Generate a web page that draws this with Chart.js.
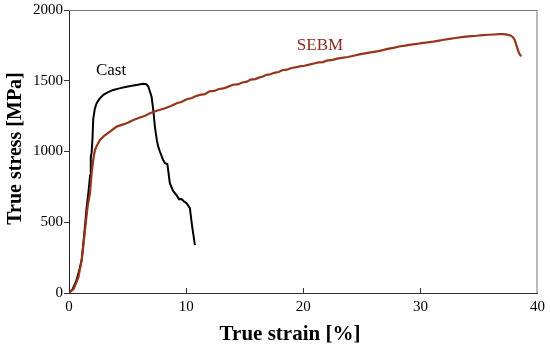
<!DOCTYPE html>
<html>
<head>
<meta charset="utf-8">
<script src="https://cdn.jsdelivr.net/npm/chart.js@4"></script>
<style>
html,body{margin:0;padding:0;background:#fff;}
#c{display:block;}
</style>
</head>
<body>
<canvas id="c" width="550" height="350"></canvas>
<script>
const xTickValues = [0, 10, 20, 30, 40];
const yTickValues = [0, 500, 1000, 1500, 2000];

const castStrain = [0, 0.3, 0.65, 0.9, 1.08, 1.2, 1.36, 1.5, 1.65, 1.8, 1.86, 1.93, 2.0, 2.07, 2.2, 2.36, 2.6, 2.93, 3.3, 3.78, 4.3, 4.92, 5.5, 6.0, 6.34, 6.6, 6.77, 7.05, 7.2, 7.33, 7.5, 7.62, 7.76, 8.04, 8.2, 8.4, 8.61, 8.9, 9.19, 9.4, 9.61, 9.8, 10.04, 10.32, 10.5, 10.75];
const castStress = [0, 25, 92, 170, 233, 330, 469, 600, 705, 830, 960, 990, 1080, 1230, 1300, 1341, 1372, 1400, 1418, 1435, 1446, 1458, 1466, 1473, 1478, 1476, 1459, 1388, 1290, 1176, 1080, 1034, 1000, 940, 917, 910, 776, 720, 690, 662, 664, 648, 634, 600, 480, 339];

const sebmStrain = [0, 0.4, 0.8, 1.1, 1.4, 1.6, 1.79, 1.93, 2.1, 2.22, 2.4, 2.64, 3.0, 3.5, 4.07, 4.5, 4.92, 5.5, 6.0, 6.5, 6.91, 7.5, 8.2, 8.7, 9.19, 9.6, 10, 10.5, 10.8, 11.17, 11.6, 12, 12.4, 12.8, 13.2, 13.5, 14, 14.4, 14.8, 15.2, 15.5, 15.9, 16.2, 16.5, 16.86, 17.2, 17.5, 17.9, 18.2, 18.6, 19, 19.3, 19.7, 20.1, 20.5, 21, 21.3, 21.7, 22, 22.5, 22.9, 23.3, 23.8, 24.2, 24.8, 25.4, 25.9, 26.3, 26.8, 27.2, 27.7, 28.2, 28.7, 29.2, 29.7, 30.1, 30.6, 31.1, 31.6, 32, 32.5, 33, 33.5, 33.9, 34.4, 34.8, 35.3, 35.8, 36.3, 36.76, 37.1, 37.4, 37.7, 37.9, 38.05, 38.2, 38.4, 38.6];
const sebmStress = [0, 30, 110, 240, 470, 620, 705, 846, 960, 1011, 1045, 1082, 1110, 1140, 1176, 1188, 1200, 1222, 1238, 1252, 1270, 1288, 1306, 1322, 1341, 1350, 1368, 1378, 1390, 1400, 1405, 1425, 1428, 1442, 1446, 1455, 1472, 1474, 1488, 1494, 1508, 1512, 1522, 1528, 1542, 1546, 1556, 1562, 1574, 1578, 1590, 1594, 1602, 1606, 1614, 1624, 1630, 1632, 1642, 1648, 1656, 1662, 1668, 1675, 1686, 1695, 1702, 1708, 1716, 1725, 1732, 1742, 1748, 1755, 1760, 1766, 1771, 1777, 1784, 1790, 1796, 1802, 1808, 1812, 1816, 1818, 1822, 1825, 1827, 1829, 1829, 1826, 1820, 1808, 1790, 1750, 1700, 1671];

const toPts = (xs, ys) => xs.map((x, i) => ({x: x, y: ys[i]}));

const SERIF = "'Liberation Serif', 'Times New Roman', serif";
const sebmColor = '#953519';
Chart.defaults.font.family = SERIF;

const decor = {
  id: 'decor',
  afterDraw(chart) {
    const {ctx, chartArea: a, scales} = chart;
    const xs = scales.x, ys = scales.y;
    ctx.save();
    ctx.strokeStyle = '#777';
    ctx.lineWidth = 1;
    ctx.beginPath();
    ctx.moveTo(a.left, a.top + 0.5);
    ctx.lineTo(a.right - 0.5, a.top + 0.5);
    ctx.lineTo(a.right - 0.5, a.bottom);
    ctx.stroke();
    ctx.strokeStyle = '#333';
    xTickValues.forEach(v => {
      if (v === xs.min || v === xs.max) return;
      const px = Math.round(xs.getPixelForValue(v)) + 0.5;
      ctx.beginPath();
      ctx.moveTo(px, a.bottom);
      ctx.lineTo(px, a.bottom - 5);
      ctx.stroke();
    });
    ctx.textAlign = 'left';
    ctx.textBaseline = 'alphabetic';
    ctx.font = '17px ' + SERIF;
    ctx.fillStyle = '#000';
    ctx.fillText('Cast', xs.getPixelForValue(2.3), ys.getPixelForValue(1541));
    ctx.fillStyle = '#8b2b22';
    ctx.fillText('SEBM', xs.getPixelForValue(19.45), ys.getPixelForValue(1717));
    ctx.fillStyle = '#000';
    ctx.font = 'bold 21px ' + SERIF;
    ctx.textAlign = 'center';
    ctx.fillText('True strain [%]', 290, 340);
    ctx.font = 'bold 20px ' + SERIF;
    ctx.translate(21, 148.5);
    ctx.rotate(-Math.PI / 2);
    ctx.fillText('True stress [MPa]', 0, 0);
    ctx.restore();
  }
};

new Chart(document.getElementById('c'), {
  type: 'scatter',
  data: {
    datasets: [
      {label: 'SEBM', data: toPts(sebmStrain, sebmStress), showLine: true, borderColor: sebmColor, borderWidth: 2.2, pointRadius: 0, tension: 0},
      {label: 'Cast', data: toPts(castStrain, castStress), showLine: true, borderColor: '#000', borderWidth: 2, pointRadius: 0, tension: 0}
    ]
  },
  options: {
    responsive: false,
    animation: false,
    layout: {padding: {top: 10, right: 12, left: 0, bottom: 0}},
    plugins: {legend: {display: false}, tooltip: {enabled: false}},
    scales: {
      x: {
        type: 'linear', min: 0, max: 40,
        afterBuildTicks: s => { s.ticks = xTickValues.map(v => ({value: v})); },
        afterFit: s => { s.height = 57; },
        grid: {display: true, drawOnChartArea: false, drawTicks: false},
        border: {display: true, color: '#333', width: 1},
        ticks: {padding: 5, color: '#000', font: {family: SERIF, size: 15}, maxRotation: 0, callback: v => String(v)}
      },
      y: {
        type: 'linear', min: 0, max: 2000,
        afterBuildTicks: s => { s.ticks = yTickValues.map(v => ({value: v})); },
        afterFit: s => { s.width = 69; },
        grid: {display: true, drawOnChartArea: false, drawTicks: true, tickLength: 5, color: '#333'},
        border: {display: true, color: '#222', width: 1},
        ticks: {padding: 1, color: '#000', font: {family: SERIF, size: 15}, callback: v => String(v)}
      }
    }
  },
  plugins: [decor]
});
</script>
</body>
</html>
